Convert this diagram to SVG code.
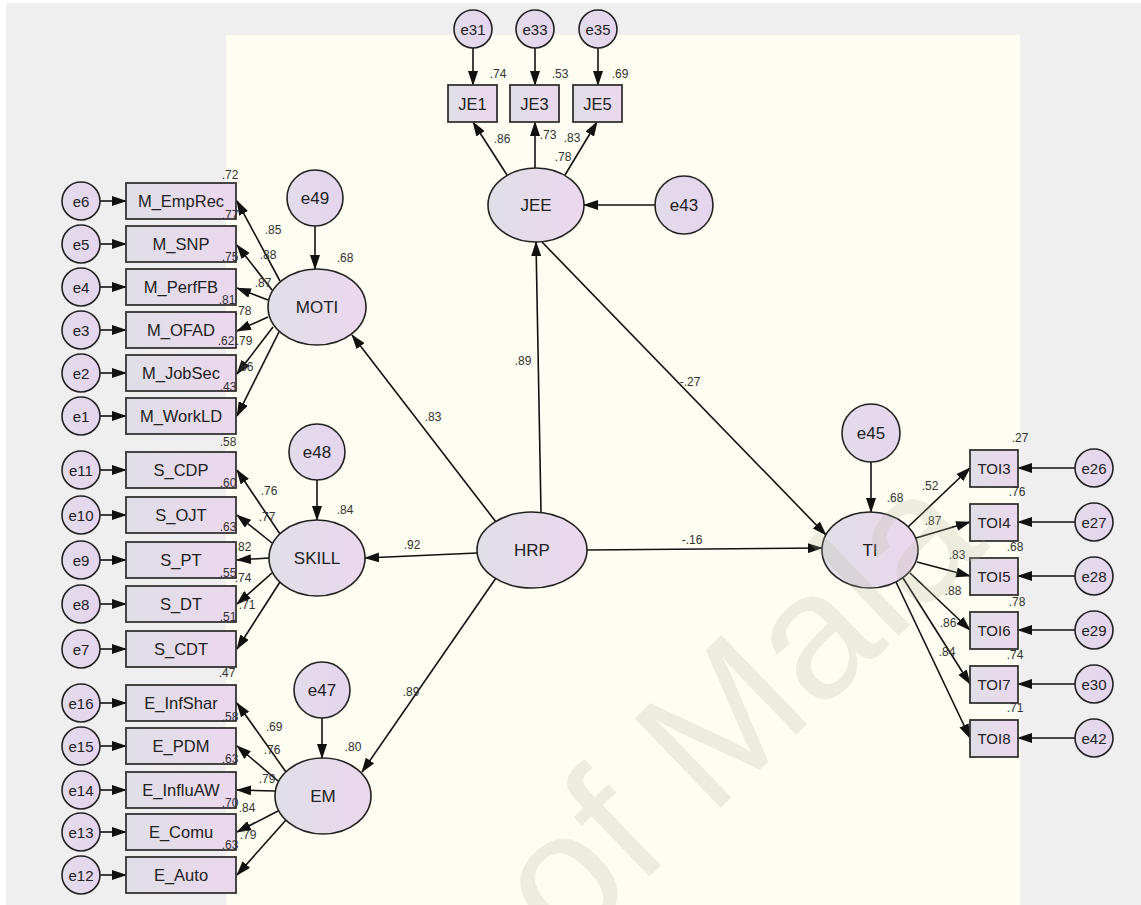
<svg xmlns="http://www.w3.org/2000/svg" width="1141" height="905" viewBox="0 0 1141 905">
<defs>
<linearGradient id="g" x1="0" y1="0" x2="1" y2="0">
<stop offset="0" stop-color="#dfdfe6"/>
<stop offset="1" stop-color="#ecd7ee"/>
</linearGradient>
<linearGradient id="ge" x1="0" y1="0" x2="1" y2="0">
<stop offset="0" stop-color="#e2dcea"/>
<stop offset="1" stop-color="#e6d4ee"/>
</linearGradient>
<marker id="ah" markerUnits="userSpaceOnUse" markerWidth="15" markerHeight="10" refX="14" refY="5" orient="auto">
<path d="M0,0 L15,5 L0,10 z" fill="#111"/>
</marker>
<clipPath id="cream"><rect x="226" y="35" width="794" height="870"/></clipPath>
</defs>
<style>
.lat{fill:url(#g);stroke:#222;stroke-width:1.6}
.box{fill:url(#g);stroke:#333;stroke-width:1.8}
.err{fill:url(#ge);stroke:#222;stroke-width:1.6}
.t{font-family:"Liberation Sans",Arial,sans-serif;font-size:17px;fill:#222;text-anchor:middle;dominant-baseline:central}
.tb{font-family:"Liberation Sans",Arial,sans-serif;font-size:16.5px;fill:#222;text-anchor:middle;dominant-baseline:central}
.te{font-family:"Liberation Sans",Arial,sans-serif;font-size:15px;fill:#222;text-anchor:middle;dominant-baseline:central}
.n{font-family:"Liberation Sans",Arial,sans-serif;font-size:12px;fill:#333;text-anchor:middle;dominant-baseline:central}
.c line{stroke:#111;stroke-width:1.6;marker-end:url(#ah)}
</style>
<rect width="1141" height="905" fill="#ffffff"/>
<rect x="6" y="3" width="1135" height="902" fill="#efefef"/>
<rect x="226" y="35" width="794" height="870" fill="#fdfdf1"/>

<g id="connectors" class="c">
<line x1="100" y1="201" x2="126" y2="201"/>
<line x1="100" y1="244" x2="126" y2="244"/>
<line x1="100" y1="287" x2="126" y2="287"/>
<line x1="100" y1="330" x2="126" y2="330"/>
<line x1="100" y1="373" x2="126" y2="373"/>
<line x1="100" y1="416" x2="126" y2="416"/>
<line x1="100" y1="470" x2="126" y2="470"/>
<line x1="100" y1="515" x2="126" y2="515"/>
<line x1="100" y1="560" x2="126" y2="560"/>
<line x1="100" y1="604" x2="126" y2="604"/>
<line x1="100" y1="649" x2="126" y2="649"/>
<line x1="100" y1="703" x2="126" y2="703"/>
<line x1="100" y1="746" x2="126" y2="746"/>
<line x1="100" y1="790" x2="126" y2="790"/>
<line x1="100" y1="832" x2="126" y2="832"/>
<line x1="100" y1="875" x2="126" y2="875"/>
<line x1="280" y1="281" x2="237" y2="201"/>
<line x1="272" y1="290" x2="237" y2="245"/>
<line x1="268" y1="300" x2="237" y2="288"/>
<line x1="268" y1="317" x2="237" y2="331"/>
<line x1="273" y1="327" x2="237" y2="374"/>
<line x1="279" y1="332" x2="237" y2="416"/>
<line x1="280" y1="534" x2="237" y2="470"/>
<line x1="272" y1="543" x2="237" y2="515"/>
<line x1="269" y1="558" x2="237" y2="560"/>
<line x1="272" y1="573" x2="237" y2="604"/>
<line x1="280" y1="582" x2="237" y2="649"/>
<line x1="286" y1="772" x2="237" y2="703"/>
<line x1="278" y1="781" x2="237" y2="746"/>
<line x1="275" y1="791" x2="237" y2="790"/>
<line x1="278" y1="811" x2="237" y2="832"/>
<line x1="286" y1="820" x2="237" y2="875"/>
<line x1="315" y1="226" x2="315" y2="269"/>
<line x1="317" y1="480" x2="317" y2="520"/>
<line x1="322" y1="718" x2="322" y2="758"/>
<line x1="871" y1="462" x2="871" y2="512"/>
<line x1="655" y1="205" x2="584" y2="205"/>
<line x1="473" y1="48" x2="473" y2="85"/>
<line x1="535" y1="48" x2="535" y2="85"/>
<line x1="598" y1="48" x2="598" y2="85"/>
<line x1="507" y1="175" x2="473" y2="122"/>
<line x1="535" y1="168" x2="535" y2="122"/>
<line x1="565" y1="175" x2="597" y2="122"/>
<line x1="541" y1="512" x2="536" y2="242"/>
<line x1="542" y1="242" x2="826" y2="535"/>
<line x1="587" y1="550" x2="822" y2="548"/>
<line x1="496" y1="522" x2="352" y2="335"/>
<line x1="477" y1="553" x2="365" y2="558"/>
<line x1="496" y1="578" x2="362" y2="772"/>
<line x1="908" y1="527" x2="970" y2="468"/>
<line x1="916" y1="538" x2="970" y2="522"/>
<line x1="917" y1="562" x2="970" y2="576"/>
<line x1="910" y1="573" x2="970" y2="630"/>
<line x1="903" y1="578" x2="970" y2="684"/>
<line x1="896" y1="582" x2="970" y2="738"/>
<line x1="1075" y1="468" x2="1018" y2="468"/>
<line x1="1075" y1="522" x2="1018" y2="522"/>
<line x1="1075" y1="576" x2="1018" y2="576"/>
<line x1="1075" y1="630" x2="1018" y2="630"/>
<line x1="1075" y1="684" x2="1018" y2="684"/>
<line x1="1075" y1="738" x2="1018" y2="738"/>
</g>

<g id="coefficients">
<text class="n" x="273" y="230">.85</text>
<text class="n" x="268" y="255">.88</text>
<text class="n" x="263" y="283">.87</text>
<text class="n" x="243" y="311">.78</text>
<text class="n" x="244" y="341">.79</text>
<text class="n" x="245" y="367">.86</text>
<text class="n" x="269" y="491">.76</text>
<text class="n" x="267" y="517">.77</text>
<text class="n" x="243" y="547">.82</text>
<text class="n" x="243" y="578">.74</text>
<text class="n" x="247" y="605">.71</text>
<text class="n" x="274" y="727">.69</text>
<text class="n" x="272" y="750">.76</text>
<text class="n" x="267" y="779">.79</text>
<text class="n" x="247" y="808">.84</text>
<text class="n" x="248" y="835">.79</text>
<text class="n" x="502" y="139">.86</text>
<text class="n" x="548" y="135">.73</text>
<text class="n" x="572" y="138">.83</text>
<text class="n" x="563" y="157">.78</text>
<text class="n" x="523" y="361">.89</text>
<text class="n" x="690" y="382">-.27</text>
<text class="n" x="692" y="540">-.16</text>
<text class="n" x="433" y="417">.83</text>
<text class="n" x="412" y="545">.92</text>
<text class="n" x="411" y="692">.89</text>
<text class="n" x="930" y="486">.52</text>
<text class="n" x="933" y="521">.87</text>
<text class="n" x="957" y="555">.83</text>
<text class="n" x="953" y="591">.88</text>
<text class="n" x="948" y="623">.86</text>
<text class="n" x="947" y="652">.84</text>
</g>

<g id="HRP"><ellipse class="lat" cx="532" cy="550" rx="55" ry="38"/><text class="t" x="532" y="550">HRP</text></g>
<g id="JEE"><ellipse class="lat" cx="536" cy="205" rx="48" ry="37"/><text class="t" x="536" y="205">JEE</text></g>
<g id="MOTI"><ellipse class="lat" cx="317" cy="307" rx="49" ry="38"/><text class="t" x="317" y="307">MOTI</text><text class="n" x="345" y="258">.68</text></g>
<g id="SKILL"><ellipse class="lat" cx="317" cy="558" rx="48" ry="38"/><text class="t" x="317" y="558">SKILL</text><text class="n" x="345" y="510">.84</text></g>
<g id="EM"><ellipse class="lat" cx="323" cy="796" rx="48" ry="38"/><text class="t" x="323" y="796">EM</text><text class="n" x="353" y="747">.80</text></g>
<g id="TI"><ellipse class="lat" cx="870" cy="550" rx="48" ry="38"/><text class="t" x="870" y="550">TI</text><text class="n" x="895" y="498">.68</text></g>

<g id="e49"><circle class="err" cx="315" cy="198" r="28"/><text class="t" x="315" y="198">e49</text></g>
<g id="e48"><circle class="err" cx="317" cy="452" r="28"/><text class="t" x="317" y="452">e48</text></g>
<g id="e47"><circle class="err" cx="322" cy="690" r="28"/><text class="t" x="322" y="690">e47</text></g>
<g id="e43"><circle class="err" cx="684" cy="205" r="29"/><text class="t" x="684" y="205">e43</text></g>
<g id="e45"><circle class="err" cx="871" cy="433" r="29"/><text class="t" x="871" y="433">e45</text></g>

<g id="JE1"><rect class="box" x="448" y="85" width="49" height="37"/><text class="tb" x="472.5" y="103.5">JE1</text><text class="n" x="498" y="74">.74</text></g>
<g id="JE3"><rect class="box" x="510" y="85" width="49" height="37"/><text class="tb" x="534.5" y="103.5">JE3</text><text class="n" x="560" y="74">.53</text></g>
<g id="JE5"><rect class="box" x="573" y="85" width="49" height="37"/><text class="tb" x="597.5" y="103.5">JE5</text><text class="n" x="620" y="74">.69</text></g>
<g id="e31"><circle class="err" cx="473" cy="29" r="19"/><text class="te" x="473" y="29">e31</text></g>
<g id="e33"><circle class="err" cx="535" cy="29" r="19"/><text class="te" x="535" y="29">e33</text></g>
<g id="e35"><circle class="err" cx="598" cy="29" r="19"/><text class="te" x="598" y="29">e35</text></g>

<g id="M_EmpRec"><rect class="box" x="126" y="183" width="110" height="36"/><text class="tb" x="181" y="201">M_EmpRec</text><text class="n" x="230" y="175">.72</text></g>
<g id="M_SNP"><rect class="box" x="126" y="226" width="110" height="36"/><text class="tb" x="181" y="244">M_SNP</text><text class="n" x="230" y="215">.77</text></g>
<g id="M_PerfFB"><rect class="box" x="126" y="269" width="110" height="36"/><text class="tb" x="181" y="287">M_PerfFB</text><text class="n" x="230" y="257">.75</text></g>
<g id="M_OFAD"><rect class="box" x="126" y="312" width="110" height="36"/><text class="tb" x="181" y="330">M_OFAD</text><text class="n" x="227" y="300">.81</text></g>
<g id="M_JobSec"><rect class="box" x="126" y="355" width="110" height="36"/><text class="tb" x="181" y="373">M_JobSec</text><text class="n" x="226" y="341">.62</text></g>
<g id="M_WorkLD"><rect class="box" x="126" y="398" width="110" height="36"/><text class="tb" x="181" y="416">M_WorkLD</text><text class="n" x="228" y="387">.43</text></g>
<g id="e6"><circle class="err" cx="81" cy="201" r="19"/><text class="te" x="81" y="201">e6</text></g>
<g id="e5"><circle class="err" cx="81" cy="244" r="19"/><text class="te" x="81" y="244">e5</text></g>
<g id="e4"><circle class="err" cx="81" cy="287" r="19"/><text class="te" x="81" y="287">e4</text></g>
<g id="e3"><circle class="err" cx="81" cy="330" r="19"/><text class="te" x="81" y="330">e3</text></g>
<g id="e2"><circle class="err" cx="81" cy="373" r="19"/><text class="te" x="81" y="373">e2</text></g>
<g id="e1"><circle class="err" cx="81" cy="416" r="19"/><text class="te" x="81" y="416">e1</text></g>

<g id="S_CDP"><rect class="box" x="126" y="452" width="110" height="36"/><text class="tb" x="181" y="470">S_CDP</text><text class="n" x="228" y="442">.58</text></g>
<g id="S_OJT"><rect class="box" x="126" y="497" width="110" height="36"/><text class="tb" x="181" y="515">S_OJT</text><text class="n" x="228" y="483">.60</text></g>
<g id="S_PT"><rect class="box" x="126" y="542" width="110" height="36"/><text class="tb" x="181" y="560">S_PT</text><text class="n" x="228" y="527">.63</text></g>
<g id="S_DT"><rect class="box" x="126" y="586" width="110" height="36"/><text class="tb" x="181" y="604">S_DT</text><text class="n" x="228" y="573">.55</text></g>
<g id="S_CDT"><rect class="box" x="126" y="631" width="110" height="36"/><text class="tb" x="181" y="649">S_CDT</text><text class="n" x="228" y="617">.51</text></g>
<g id="e11"><circle class="err" cx="81" cy="470" r="19"/><text class="te" x="81" y="470">e11</text></g>
<g id="e10"><circle class="err" cx="81" cy="515" r="19"/><text class="te" x="81" y="515">e10</text></g>
<g id="e9"><circle class="err" cx="81" cy="560" r="19"/><text class="te" x="81" y="560">e9</text></g>
<g id="e8"><circle class="err" cx="81" cy="604" r="19"/><text class="te" x="81" y="604">e8</text></g>
<g id="e7"><circle class="err" cx="81" cy="649" r="19"/><text class="te" x="81" y="649">e7</text></g>

<g id="E_InfShar"><rect class="box" x="126" y="685" width="110" height="36"/><text class="tb" x="181" y="703">E_InfShar</text><text class="n" x="227" y="673">.47</text></g>
<g id="E_PDM"><rect class="box" x="126" y="728" width="110" height="36"/><text class="tb" x="181" y="746">E_PDM</text><text class="n" x="230" y="717">.58</text></g>
<g id="E_InfluAW"><rect class="box" x="126" y="772" width="110" height="36"/><text class="tb" x="181" y="790">E_InfluAW</text><text class="n" x="230" y="759">.63</text></g>
<g id="E_Comu"><rect class="box" x="126" y="814" width="110" height="36"/><text class="tb" x="181" y="832">E_Comu</text><text class="n" x="230" y="803">.70</text></g>
<g id="E_Auto"><rect class="box" x="126" y="857" width="110" height="36"/><text class="tb" x="181" y="875">E_Auto</text><text class="n" x="230" y="845">.63</text></g>
<g id="e16"><circle class="err" cx="81" cy="703" r="19"/><text class="te" x="81" y="703">e16</text></g>
<g id="e15"><circle class="err" cx="81" cy="746" r="19"/><text class="te" x="81" y="746">e15</text></g>
<g id="e14"><circle class="err" cx="81" cy="790" r="19"/><text class="te" x="81" y="790">e14</text></g>
<g id="e13"><circle class="err" cx="81" cy="832" r="19"/><text class="te" x="81" y="832">e13</text></g>
<g id="e12"><circle class="err" cx="81" cy="875" r="19"/><text class="te" x="81" y="875">e12</text></g>

<g id="TOI3"><rect class="box" x="970" y="450" width="48" height="37"/><text class="te" x="994" y="468.5">TOI3</text><text class="n" x="1020" y="438">.27</text></g>
<g id="TOI4"><rect class="box" x="970" y="504" width="48" height="37"/><text class="te" x="994" y="522.5">TOI4</text><text class="n" x="1017" y="492">.76</text></g>
<g id="TOI5"><rect class="box" x="970" y="558" width="48" height="37"/><text class="te" x="994" y="576.5">TOI5</text><text class="n" x="1015" y="547">.68</text></g>
<g id="TOI6"><rect class="box" x="970" y="612" width="48" height="37"/><text class="te" x="994" y="630.5">TOI6</text><text class="n" x="1017" y="602">.78</text></g>
<g id="TOI7"><rect class="box" x="970" y="666" width="48" height="37"/><text class="te" x="994" y="684.5">TOI7</text><text class="n" x="1015" y="655">.74</text></g>
<g id="TOI8"><rect class="box" x="970" y="720" width="48" height="37"/><text class="te" x="994" y="738.5">TOI8</text><text class="n" x="1015" y="708">.71</text></g>
<g id="e26"><circle class="err" cx="1094" cy="468" r="19"/><text class="te" x="1094" y="468">e26</text></g>
<g id="e27"><circle class="err" cx="1094" cy="522" r="19"/><text class="te" x="1094" y="522">e27</text></g>
<g id="e28"><circle class="err" cx="1094" cy="576" r="19"/><text class="te" x="1094" y="576">e28</text></g>
<g id="e29"><circle class="err" cx="1094" cy="630" r="19"/><text class="te" x="1094" y="630">e29</text></g>
<g id="e30"><circle class="err" cx="1094" cy="684" r="19"/><text class="te" x="1094" y="684">e30</text></g>
<g id="e42"><circle class="err" cx="1094" cy="738" r="19"/><text class="te" x="1094" y="738">e42</text></g>

<g id="watermark" clip-path="url(#cream)">
<text x="0" y="0" transform="translate(566,957) rotate(-44)" font-family="Liberation Sans, Arial, sans-serif" font-size="180" fill="#b8b8a0" fill-opacity="0.22">of Mala</text>
</g>
</svg>
